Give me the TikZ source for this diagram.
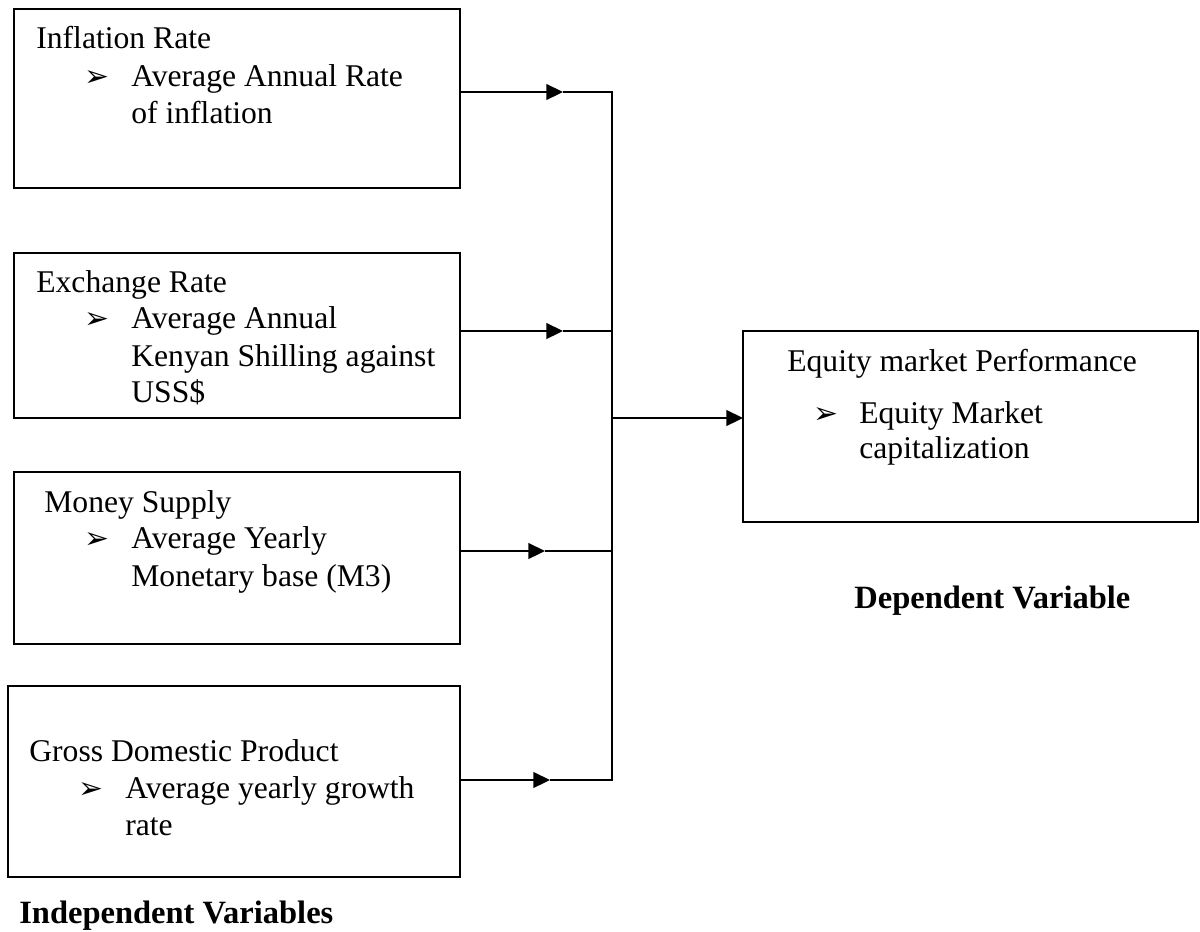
\documentclass[tikz,border=0pt]{standalone}
\usepackage{fontspec}
\setmainfont{Liberation Serif}
\newfontfamily\bulletfont{DejaVu Sans}
\usetikzlibrary{arrows.meta, positioning, calc}

\tikzset{
    varbox/.style={draw, line width=0.8pt, anchor=north west, inner sep=0pt, outer sep=0pt},
    txt/.style={anchor=base west, inner sep=0pt, font=\fontsize{18}{21}\selectfont},
    bul/.style={anchor=base west, inner sep=0pt, font=\bulletfont\fontsize{17}{19}\selectfont},
    head/.style={anchor=base west, inner sep=0pt, font=\fontsize{18.5}{22}\selectfont\bfseries},
    arr/.style={-{Triangle[length=9.5pt, width=9pt]}, line width=1pt},
    bus/.style={line width=0.8pt}
}

\begin{document}
\begin{tikzpicture}[x=0.02cm, y=-0.02cm]
    \useasboundingbox (0,0) rectangle (1200,931);

    % Boxes of the independent variables
    \node[varbox, minimum width=8.92cm, minimum height=3.58cm] (infl) at (14,9) {};
    \node[varbox, minimum width=8.92cm, minimum height=3.3cm] (exch) at (14,253) {};
    \node[varbox, minimum width=8.92cm, minimum height=3.44cm] (money) at (14,472) {};
    \node[varbox, minimum width=9.04cm, minimum height=3.82cm] (gdp) at (8,686) {};

    % Box of the dependent variable
    \node[varbox, minimum width=9.1cm, minimum height=3.82cm] (equity) at (743,331) {};

    % Inflation rate
    \node[txt] (infl-title) at (36,48) {Inflation Rate};
    \node[bul] (infl-bul) at (84,86) {➢};
    \node[txt] (infl-a) at (131,86) {Average Annual Rate};
    \node[txt] (infl-b) at (131,123) {of inflation};

    % Exchange rate
    \node[txt] (exch-title) at (36,292) {Exchange Rate};
    \node[bul] (exch-bul) at (84,328) {➢};
    \node[txt] (exch-a) at (131,328) {Average Annual};
    \node[txt] (exch-b) at (131,366) {Kenyan Shilling against};
    \node[txt] (exch-c) at (131,402) {USS\$};

    % Money supply
    \node[txt] (money-title) at (44,512) {Money Supply};
    \node[bul] (money-bul) at (84,548) {➢};
    \node[txt] (money-a) at (131,548) {Average Yearly};
    \node[txt] (money-b) at (131,586) {Monetary base (M3)};

    % Gross domestic product
    \node[txt] (gdp-title) at (29,761) {Gross Domestic Product};
    \node[bul] (gdp-bul) at (78,798) {➢};
    \node[txt] (gdp-a) at (125,798) {Average yearly growth};
    \node[txt] (gdp-b) at (125,835) {rate};

    % Equity market performance
    \node[txt] (equity-title) at (787,371) {Equity market Performance};
    \node[bul] (equity-bul) at (813,423) {➢};
    \node[txt] (equity-a) at (859,423) {Equity Market};
    \node[txt] (equity-b) at (859,458) {capitalization};

    % Captions
    \node[head] (indep) at (19,923) {Independent Variables};
    \node[head] (dep) at (854,608) {Dependent Variable};

    % Arrow tips and the collecting line
    \coordinate (tip1) at (563,92);
    \coordinate (tip2) at (563,331);
    \coordinate (tip3) at (545,551);
    \coordinate (tip4) at (550,780);
    \coordinate (join) at (612,418);

    \draw[arr] (infl.east |- tip1) -- (tip1);
    \draw[arr] (exch.east |- tip2) -- (tip2);
    \draw[arr] (money.east |- tip3) -- (tip3);
    \draw[arr] (gdp.east |- tip4) -- (tip4);

    \draw[bus] (tip1) -- (tip1 -| join) -- (tip4 -| join) -- (tip4);
    \draw[bus] (tip2) -- (tip2 -| join);
    \draw[bus] (tip3) -- (tip3 -| join);

    \draw[arr] (join) -- (equity.west |- join);
\end{tikzpicture}
\end{document}
